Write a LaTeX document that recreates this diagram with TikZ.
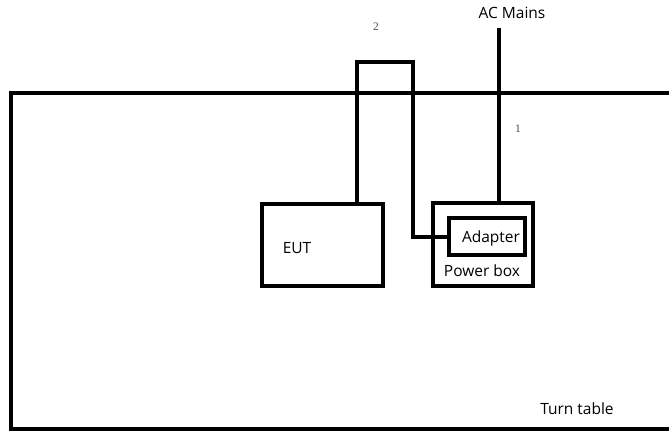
\documentclass[tikz,border=0pt]{standalone}
\usepackage{fontspec}
\setmainfont{Open Sans}
\newfontfamily\numfont{Liberation Serif}
\usetikzlibrary{positioning}

\begin{document}
\begin{tikzpicture}[x = 1pt, y = -1pt, line width = 4pt,
    unit/.style = {draw, line width = 4pt, minimum width = #1, inner sep = 0pt},
    txt/.style = {font = \fontsize{15.5}{17}\selectfont, inner sep = 0pt},
    num/.style = {font = \numfont\fontsize{11.5}{13}\selectfont, text = black!70, inner sep = 0pt}]

            \clip (0,0) rectangle (669,433);

            % turn table
            \draw (690,93) -- (10.5,93) -- (10.5,429) -- (690,429);
            \node [txt] (table) at (577,409) {Turn table};

            % units on the table
            \node [unit = 121pt, minimum height = 82pt] (eut) at (322,244.5) {};
            \node [txt] (euttext) at (297,248) {EUT};
            \node [unit = 100pt, minimum height = 83pt] (pbox) at (483,244.5) {};
            \node [unit = 76pt, minimum height = 37pt] (adapter) at (487,236.5) {};
            \node [txt] (adaptertext) at (491,238) {Adapter};
            \node [txt] (pboxtext) at (482,271) {Power box};

            % cable 2
            \coordinate (bendA) at (357,62);
            \coordinate (bendB) at (413,62);
            \draw (eut.north -| bendA) -- (bendA) -- (bendB) |- (adapter.west);
            \node [num] (two) at (376,27) {2};

            % cable 1
            \node [txt] (mains) at (512,13) {AC Mains};
            \coordinate (mainsend) at (499,28);
            \draw (mainsend) -- (mainsend |- pbox.north);
            \node [num] (one) at (518,129) {1};
            \end{tikzpicture}
\end{document}
